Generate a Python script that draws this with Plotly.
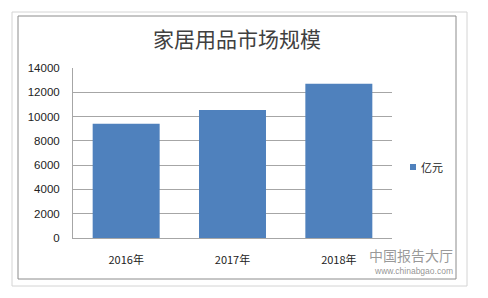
import plotly.graph_objects as go

categories = ["2016年", "2017年", "2018年"]
values = [9400, 10550, 12700]
series_name = "亿元"
title_text = "家居用品市场规模"

W, H = 488, 298
L, R, T, B = 73, 392, 68, 238  # plot area pixel bounds
BAR_COLOR = "#4f81bd"


def px(x):
    return (x - L) / (R - L)


def py(y):
    return (B - y) / (B - T)


fig = go.Figure()
fig.add_trace(go.Bar(
    x=categories, y=values, name=series_name,
    marker=dict(color=BAR_COLOR, line=dict(width=0)),
    showlegend=False,
))

fig.update_layout(
    width=W, height=H,
    margin=dict(l=L, r=W - R, t=T, b=H - B, pad=0),
    paper_bgcolor="white", plot_bgcolor="white",
    bargap=0.37,
    title=dict(text=title_text, x=px(237), xref="paper", xanchor="center",
               y=1 - 40 / H, yanchor="middle",
               font=dict(family="Noto Sans CJK SC", size=21, color="#404040")),
    font=dict(family="Liberation Sans", size=11, color="#222222"),
)
fig.update_yaxes(range=[0, 14000], dtick=2000, tickformat="d", showgrid=True,
                 gridcolor="#a6a6a6", gridwidth=1, showline=True,
                 linecolor="#a6a6a6", linewidth=1,
                 zeroline=False, ticks="", ticklabelstandoff=10,
                 tickfont=dict(family="Liberation Sans", size=11.5, color="#222222"))
fig.update_xaxes(showline=True, linecolor="#a6a6a6", linewidth=1, ticks="",
                 ticklabelstandoff=12,
                 tickfont=dict(family="Noto Sans CJK SC", size=11, color="#222222"))

# legend (manual: small square + label)
fig.add_shape(type="rect", xref="paper", yref="paper",
              x0=px(410), x1=px(416), y0=py(170), y1=py(164),
              fillcolor=BAR_COLOR, line=dict(width=0))
fig.add_annotation(text=series_name, xref="paper", yref="paper",
                   x=px(419), y=py(167), xanchor="left", yanchor="middle",
                   showarrow=False,
                   font=dict(family="Noto Sans CJK SC", size=11, color="#222222"))

# borders
fig.add_shape(type="rect", xref="paper", yref="paper",
              x0=px(12), x1=px(467), y0=py(286), y1=py(12),
              line=dict(color="#d4d4d4", width=1), layer="below")
fig.add_shape(type="rect", xref="paper", yref="paper",
              x0=px(18), x1=px(456), y0=py(279), y1=py(16),
              line=dict(color="#8c8c8c", width=1), layer="below")

# watermark
fig.add_annotation(text="中国报告大厅", xref="paper", yref="paper",
                   x=px(454), y=py(255), xanchor="right", yanchor="middle",
                   showarrow=False, borderpad=0,
                   font=dict(family="Noto Sans CJK SC", size=14, color="rgba(120,120,120,0.75)"))
fig.add_annotation(text="www.chinabgao.com", xref="paper", yref="paper",
                   x=px(454), y=py(271), xanchor="right", yanchor="middle",
                   showarrow=False, borderpad=0,
                   font=dict(family="Liberation Sans", size=8.5, color="rgba(120,120,120,0.8)"))

fig.write_html("out.html", config=dict(displayModeBar=False))
